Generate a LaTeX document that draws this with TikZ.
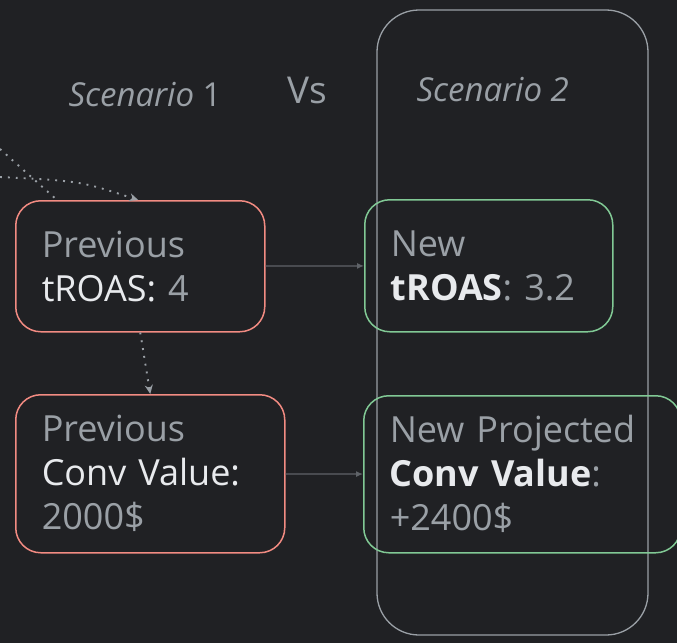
\documentclass[tikz,border=0pt]{standalone}
\usepackage{fontspec}
\setmainfont{Open Sans}
\usetikzlibrary{arrows.meta}

\definecolor{bgdark}{HTML}{202124}
\definecolor{dimtext}{HTML}{9AA0A6}
\definecolor{brighttext}{HTML}{E8EAED}
\definecolor{oldred}{HTML}{F28B82}
\definecolor{newgreen}{HTML}{81C995}
\definecolor{linkgray}{HTML}{5F6368}
\definecolor{framegray}{HTML}{9AA0A6}

\begin{document}
\begin{tikzpicture}[x=1pt,y=-1pt,
  card/.style={draw, line width=1.5pt, rounded corners=25pt, anchor=north west,
    align=left, inner xsep=26pt, inner ysep=0pt, text=dimtext,
    font=\fontsize{36}{44}\selectfont},
  oldcard/.style={card, draw=oldred},
  newcard/.style={card, draw=newgreen},
  heading/.style={anchor=base west, text=dimtext, font=\fontsize{33}{38}\selectfont},
  link/.style={draw=linkgray, line width=1.2pt, -{Latex[length=7pt,width=6pt]}},
  dotlink/.style={draw=dimtext, line width=1.9pt, dash pattern=on 1.9pt off 6pt,
    -{Stealth[length=9pt,width=8pt,inset=3pt]}}]
  \useasboundingbox (0,0) rectangle (677,643);
  \fill[bgdark] (0,0) rectangle (677,643);
  \draw[framegray, line width=1.3pt, rounded corners=42pt] (377,10) rectangle (648,635);

  \node[heading] (scenone) at (65,106) {\textit{Scenario} 1};
  \node[heading, font=\fontsize{37}{40}\selectfont] (versus) at (284,103) {Vs};
  \node[heading] (scentwo) at (413,101) {\textit{Scenario 2}};

  \node[oldcard, text width=197pt, minimum height=131pt] (prevroas) at (15,200)
    {Previous\\\textcolor{brighttext}{tROAS:} 4};
  \node[oldcard, text width=217pt, minimum height=158pt] (prevconv) at (15,394)
    {Previous\\\textcolor{brighttext}{Conv Value:}\\2000\$};
  \node[newcard, text width=196pt, minimum height=132pt] (newroas) at (364,199)
    {New\\\textcolor{brighttext}{\textbf{tROAS}}: 3.2};
  \node[newcard, text width=265pt, minimum height=157pt] (newconv) at (363,395)
    {New Projected\\\textcolor{brighttext}{\textbf{Conv Value}}:\\+2400\$};

  \coordinate (offa) at (0,149);
  \coordinate (offb) at (0,177);
  \draw[dotlink, -] (offa) -- ([xshift=42pt]prevroas.north west);
  \draw[dotlink] (offb) .. controls (80,181) .. ([xshift=-2pt]prevroas.north);
  \draw[dotlink] (prevroas.south) -- (prevconv.north);

  \draw[link] (prevroas) -- (newroas);
  \draw[link] (prevconv) -- (newconv);
\end{tikzpicture}
\end{document}
